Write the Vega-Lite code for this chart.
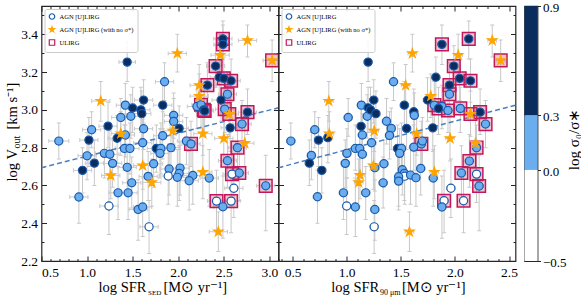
{
"$schema": "https://vega.github.io/schema/vega-lite/v6.json",
"background": "white",
"padding": {"left": 2.5, "top": 0, "right": 0, "bottom": 2},
"config": {
  "font": "Liberation Serif",
  "view": {"stroke": "#262626", "strokeWidth": 1.2},
  "axis": {"domain": false, "grid": false, "tickColor": "#262626", "tickWidth": 1, "labelFont": "Liberation Serif", "titleFont": "Liberation Serif", "labelFontSize": 13.5, "titleFontSize": 14.5, "titleFontWeight": "normal", "labelColor": "black", "titleColor": "black"}
},
"datasets": {
"fit": [{"p":"L","x":0.5,"y":2.694},{"p":"L","x":3.1,"y":3.011},{"p":"R","x":0.37,"y":2.694},{"p":"R","x":2.56,"y":3.025}],
"cb": [{"lo":-0.5,"hi":0,"c":"w"},{"lo":0,"hi":0.3,"c":"l"},{"lo":0.3,"hi":0.9,"c":"d"}],
"pts": [
{"p":"L","t":"l","u":0,"x":0.69,"y":2.835,"x0":0.58,"x1":0.80,"y0":2.74,"y1":2.93},
{"p":"L","t":"d","u":0,"x":1.02,"y":2.84,"x0":0.92,"x1":1.12,"y0":2.70,"y1":2.96},
{"p":"L","t":"l","u":0,"x":1.05,"y":2.895,"x0":0.95,"x1":1.15,"y0":2.80,"y1":2.99},
{"p":"L","t":"d","u":0,"x":1.23,"y":2.914,"x0":1.13,"x1":1.33,"y0":2.80,"y1":3.04},
{"p":"L","t":"d","u":0,"x":1.44,"y":3.253,"x0":1.35,"x1":1.53,"y0":3.15,"y1":3.36},
{"p":"L","t":"l","u":0,"x":1.42,"y":3.025,"x0":1.32,"x1":1.52,"y0":2.92,"y1":3.14},
{"p":"L","t":"l","u":0,"x":1.37,"y":2.96,"x0":1.27,"x1":1.47,"y0":2.86,"y1":3.06},
{"p":"L","t":"l","u":0,"x":1.48,"y":2.966,"x0":1.38,"x1":1.58,"y0":2.85,"y1":3.08},
{"p":"L","t":"d","u":0,"x":1.50,"y":3.01,"x0":1.40,"x1":1.60,"y0":2.88,"y1":3.12},
{"p":"L","t":"d","u":0,"x":1.62,"y":3.052,"x0":1.52,"x1":1.72,"y0":2.93,"y1":3.16},
{"p":"L","t":"d","u":0,"x":1.59,"y":3.0,"x0":1.49,"x1":1.69,"y0":2.88,"y1":3.12},
{"p":"L","t":"d","u":0,"x":1.60,"y":2.98,"x0":1.50,"x1":1.70,"y0":2.85,"y1":3.10},
{"p":"L","t":"l","u":0,"x":1.62,"y":2.90,"x0":1.52,"x1":1.72,"y0":2.79,"y1":3.01},
{"p":"L","t":"d","u":0,"x":1.33,"y":2.85,"x0":1.23,"x1":1.43,"y0":2.72,"y1":2.97},
{"p":"L","t":"l","u":0,"x":1.42,"y":2.867,"x0":1.32,"x1":1.52,"y0":2.75,"y1":2.98},
{"p":"L","t":"s","u":0,"x":1.37,"y":2.875,"x0":1.27,"x1":1.47,"y0":2.76,"y1":2.99},
{"p":"L","t":"s","u":0,"x":1.15,"y":3.047,"x0":1.05,"x1":1.25,"y0":2.94,"y1":3.15},
{"p":"L","t":"l","u":0,"x":1.61,"y":2.826,"x0":1.51,"x1":1.71,"y0":2.70,"y1":2.95},
{"p":"L","t":"l","u":0,"x":1.41,"y":2.796,"x0":1.31,"x1":1.51,"y0":2.68,"y1":2.92},
{"p":"L","t":"l","u":0,"x":1.47,"y":2.796,"x0":1.37,"x1":1.57,"y0":2.66,"y1":2.93},
{"p":"L","t":"l","u":0,"x":1.85,"y":3.149,"x0":1.75,"x1":1.95,"y0":3.05,"y1":3.25},
{"p":"L","t":"d","u":0,"x":1.83,"y":3.025,"x0":1.73,"x1":1.93,"y0":2.90,"y1":3.15},
{"p":"L","t":"s","u":0,"x":1.99,"y":3.299,"x0":1.89,"x1":2.09,"y0":3.20,"y1":3.40},
{"p":"L","t":"l","u":0,"x":1.83,"y":2.863,"x0":1.73,"x1":1.93,"y0":2.74,"y1":2.99},
{"p":"L","t":"l","u":0,"x":1.95,"y":2.971,"x0":1.85,"x1":2.05,"y0":2.85,"y1":3.09},
{"p":"L","t":"l","u":0,"x":1.95,"y":2.939,"x0":1.85,"x1":2.05,"y0":2.82,"y1":3.06},
{"p":"L","t":"s","u":0,"x":1.94,"y":2.889,"x0":1.84,"x1":2.04,"y0":2.78,"y1":3.00},
{"p":"L","t":"d","u":0,"x":2.01,"y":2.902,"x0":1.91,"x1":2.11,"y0":2.79,"y1":3.02},
{"p":"L","t":"l","u":0,"x":1.92,"y":2.80,"x0":1.82,"x1":2.02,"y0":2.68,"y1":2.92},
{"p":"L","t":"d","u":0,"x":1.76,"y":2.796,"x0":1.66,"x1":1.86,"y0":2.67,"y1":2.92},
{"p":"L","t":"l","u":0,"x":1.81,"y":2.796,"x0":1.71,"x1":1.91,"y0":2.66,"y1":2.93},
{"p":"L","t":"l","u":0,"x":2.09,"y":2.835,"x0":1.99,"x1":2.19,"y0":2.71,"y1":2.96},
{"p":"L","t":"l","u":1,"x":2.14,"y":2.82,"x0":2.04,"x1":2.24,"y0":2.70,"y1":2.94},
{"p":"L","t":"l","u":0,"x":2.205,"y":3.018,"x0":2.10,"x1":2.31,"y0":2.90,"y1":3.13},
{"p":"L","t":"l","u":1,"x":2.25,"y":3.027,"x0":2.15,"x1":2.35,"y0":2.90,"y1":3.15},
{"p":"L","t":"d","u":1,"x":2.28,"y":3.0,"x0":2.18,"x1":2.38,"y0":2.87,"y1":3.12},
{"p":"L","t":"d","u":1,"x":2.29,"y":2.994,"x0":2.19,"x1":2.39,"y0":2.86,"y1":3.12},
{"p":"L","t":"s","u":0,"x":2.23,"y":3.13,"x0":2.13,"x1":2.33,"y0":3.02,"y1":3.24},
{"p":"L","t":"s","u":0,"x":2.23,"y":3.073,"x0":2.13,"x1":2.33,"y0":2.96,"y1":3.19},
{"p":"L","t":"d","u":1,"x":2.32,"y":3.131,"x0":2.22,"x1":2.42,"y0":3.02,"y1":3.25},
{"p":"L","t":"s","u":0,"x":2.27,"y":2.874,"x0":2.17,"x1":2.37,"y0":2.76,"y1":2.99},
{"p":"L","t":"d","u":1,"x":2.41,"y":3.232,"x0":2.31,"x1":2.51,"y0":3.12,"y1":3.34},
{"p":"L","t":"s","u":0,"x":2.46,"y":3.29,"x0":2.36,"x1":2.56,"y0":3.18,"y1":3.40},
{"p":"L","t":"d","u":1,"x":2.49,"y":3.376,"x0":2.39,"x1":2.59,"y0":3.27,"y1":3.47},
{"p":"L","t":"d","u":1,"x":2.49,"y":3.347,"x0":2.39,"x1":2.59,"y0":3.24,"y1":3.45},
{"p":"L","t":"d","u":0,"x":2.45,"y":3.173,"x0":2.35,"x1":2.55,"y0":3.06,"y1":3.28},
{"p":"L","t":"d","u":1,"x":2.50,"y":3.167,"x0":2.40,"x1":2.60,"y0":3.05,"y1":3.28},
{"p":"L","t":"d","u":1,"x":2.58,"y":3.154,"x0":2.48,"x1":2.68,"y0":3.04,"y1":3.27},
{"p":"L","t":"l","u":1,"x":2.54,"y":3.083,"x0":2.44,"x1":2.64,"y0":2.97,"y1":3.20},
{"p":"L","t":"d","u":0,"x":2.47,"y":3.052,"x0":2.37,"x1":2.57,"y0":2.94,"y1":3.17},
{"p":"L","t":"l","u":1,"x":2.51,"y":3.004,"x0":2.41,"x1":2.61,"y0":2.88,"y1":3.12},
{"p":"L","t":"s","u":1,"x":2.56,"y":2.978,"x0":2.46,"x1":2.66,"y0":2.86,"y1":3.10},
{"p":"L","t":"d","u":1,"x":2.76,"y":2.988,"x0":2.66,"x1":2.86,"y0":2.87,"y1":3.11},
{"p":"L","t":"l","u":1,"x":2.70,"y":2.925,"x0":2.60,"x1":2.80,"y0":2.80,"y1":3.05},
{"p":"L","t":"d","u":0,"x":2.57,"y":2.905,"x0":2.47,"x1":2.67,"y0":2.78,"y1":3.03},
{"p":"L","t":"s","u":0,"x":2.50,"y":2.849,"x0":2.40,"x1":2.60,"y0":2.73,"y1":2.97},
{"p":"L","t":"s","u":0,"x":2.73,"y":2.824,"x0":2.63,"x1":2.83,"y0":2.70,"y1":2.95},
{"p":"L","t":"s","u":0,"x":2.76,"y":3.368,"x0":2.66,"x1":2.86,"y0":3.28,"y1":3.45},
{"p":"L","t":"s","u":1,"x":3.03,"y":3.262,"x0":2.93,"x1":3.13,"y0":3.15,"y1":3.37},
{"p":"L","t":"l","u":1,"x":2.65,"y":2.80,"x0":2.55,"x1":2.75,"y0":2.68,"y1":2.92},
{"p":"L","t":"l","u":0,"x":1.00,"y":2.757,"x0":0.90,"x1":1.10,"y0":2.63,"y1":2.88},
{"p":"L","t":"l","u":0,"x":1.19,"y":2.77,"x0":1.09,"x1":1.29,"y0":2.64,"y1":2.90},
{"p":"L","t":"l","u":0,"x":1.25,"y":2.765,"x0":1.15,"x1":1.35,"y0":2.64,"y1":2.89},
{"p":"L","t":"d","u":0,"x":0.95,"y":2.68,"x0":0.85,"x1":1.05,"y0":2.56,"y1":2.80},
{"p":"L","t":"d","u":0,"x":1.08,"y":2.718,"x0":0.98,"x1":1.18,"y0":2.60,"y1":2.84},
{"p":"L","t":"l","u":0,"x":1.28,"y":2.717,"x0":1.18,"x1":1.38,"y0":2.59,"y1":2.84},
{"p":"L","t":"l","u":0,"x":1.44,"y":2.696,"x0":1.34,"x1":1.54,"y0":2.57,"y1":2.82},
{"p":"L","t":"s","u":0,"x":1.26,"y":2.653,"x0":1.16,"x1":1.36,"y0":2.53,"y1":2.78},
{"p":"L","t":"s","u":0,"x":1.61,"y":2.705,"x0":1.51,"x1":1.71,"y0":2.58,"y1":2.83},
{"p":"L","t":"l","u":0,"x":1.73,"y":2.715,"x0":1.63,"x1":1.83,"y0":2.59,"y1":2.84},
{"p":"L","t":"l","u":0,"x":1.80,"y":2.77,"x0":1.70,"x1":1.90,"y0":2.64,"y1":2.90},
{"p":"L","t":"l","u":0,"x":1.67,"y":2.648,"x0":1.57,"x1":1.77,"y0":2.52,"y1":2.78},
{"p":"L","t":"s","u":0,"x":1.71,"y":2.616,"x0":1.61,"x1":1.81,"y0":2.49,"y1":2.74},
{"p":"L","t":"l","u":0,"x":1.49,"y":2.614,"x0":1.39,"x1":1.59,"y0":2.48,"y1":2.75},
{"p":"L","t":"l","u":0,"x":1.34,"y":2.561,"x0":1.24,"x1":1.44,"y0":2.42,"y1":2.70},
{"p":"L","t":"l","u":0,"x":1.45,"y":2.561,"x0":1.35,"x1":1.55,"y0":2.42,"y1":2.70},
{"p":"L","t":"l","u":0,"x":0.91,"y":2.539,"x0":0.81,"x1":1.01,"y0":2.40,"y1":2.68},
{"p":"L","t":"w","u":0,"x":1.24,"y":2.491,"x0":1.14,"x1":1.34,"y0":2.34,"y1":2.64},
{"p":"L","t":"l","u":0,"x":1.56,"y":2.473,"x0":1.46,"x1":1.66,"y0":2.31,"y1":2.63},
{"p":"L","t":"l","u":0,"x":1.61,"y":2.486,"x0":1.51,"x1":1.71,"y0":2.33,"y1":2.64},
{"p":"L","t":"w","u":0,"x":1.68,"y":2.381,"x0":1.58,"x1":1.78,"y0":2.24,"y1":2.52},
{"p":"L","t":"l","u":0,"x":1.90,"y":2.687,"x0":1.80,"x1":2.00,"y0":2.55,"y1":2.82},
{"p":"L","t":"w","u":0,"x":1.89,"y":2.65,"x0":1.79,"x1":1.99,"y0":2.50,"y1":2.80},
{"p":"L","t":"l","u":0,"x":2.02,"y":2.692,"x0":1.92,"x1":2.12,"y0":2.55,"y1":2.83},
{"p":"L","t":"l","u":0,"x":2.01,"y":2.664,"x0":1.91,"x1":2.11,"y0":2.52,"y1":2.81},
{"p":"L","t":"l","u":0,"x":1.99,"y":2.643,"x0":1.89,"x1":2.09,"y0":2.49,"y1":2.79},
{"p":"L","t":"l","u":0,"x":2.16,"y":2.653,"x0":2.06,"x1":2.26,"y0":2.50,"y1":2.80},
{"p":"L","t":"l","u":0,"x":2.12,"y":2.625,"x0":2.02,"x1":2.22,"y0":2.47,"y1":2.78},
{"p":"L","t":"s","u":0,"x":2.27,"y":2.671,"x0":2.17,"x1":2.37,"y0":2.53,"y1":2.81},
{"p":"L","t":"l","u":0,"x":2.34,"y":2.639,"x0":2.24,"x1":2.44,"y0":2.49,"y1":2.79},
{"p":"L","t":"l","u":1,"x":2.54,"y":2.731,"x0":2.44,"x1":2.64,"y0":2.59,"y1":2.87},
{"p":"L","t":"w","u":1,"x":2.59,"y":2.66,"x0":2.49,"x1":2.69,"y0":2.51,"y1":2.81},
{"p":"L","t":"l","u":1,"x":2.67,"y":2.666,"x0":2.57,"x1":2.77,"y0":2.52,"y1":2.81},
{"p":"L","t":"w","u":0,"x":2.61,"y":2.585,"x0":2.51,"x1":2.71,"y0":2.43,"y1":2.74},
{"p":"L","t":"l","u":1,"x":2.96,"y":2.598,"x0":2.86,"x1":3.06,"y0":2.36,"y1":2.76},
{"p":"L","t":"w","u":1,"x":2.42,"y":2.517,"x0":2.32,"x1":2.52,"y0":2.35,"y1":2.68},
{"p":"L","t":"w","u":1,"x":2.58,"y":2.517,"x0":2.48,"x1":2.68,"y0":2.35,"y1":2.68},
{"p":"L","t":"l","u":0,"x":2.49,"y":2.487,"x0":2.39,"x1":2.59,"y0":2.32,"y1":2.65},
{"p":"L","t":"s","u":0,"x":2.44,"y":2.355,"x0":2.34,"x1":2.54,"y0":2.25,"y1":2.46},
{"p":"R","t":"l","u":0,"x":0.484,"y":2.835,"x0":0.444,"x1":0.524,"y0":2.74,"y1":2.93},
{"p":"R","t":"l","u":0,"x":0.705,"y":2.895,"x0":0.665,"x1":0.745,"y0":2.80,"y1":2.99},
{"p":"R","t":"d","u":0,"x":0.74,"y":2.84,"x0":0.70,"x1":0.78,"y0":2.70,"y1":2.96},
{"p":"R","t":"d","u":0,"x":0.826,"y":2.853,"x0":0.786,"x1":0.866,"y0":2.72,"y1":2.97},
{"p":"R","t":"s","u":0,"x":0.835,"y":3.047,"x0":0.795,"x1":0.875,"y0":2.94,"y1":3.15},
{"p":"R","t":"s","u":0,"x":0.84,"y":2.874,"x0":0.80,"x1":0.88,"y0":2.76,"y1":2.99},
{"p":"R","t":"l","u":0,"x":1.014,"y":2.96,"x0":0.974,"x1":1.054,"y0":2.86,"y1":3.06},
{"p":"R","t":"d","u":0,"x":1.133,"y":2.913,"x0":1.093,"x1":1.173,"y0":2.80,"y1":3.04},
{"p":"R","t":"l","u":0,"x":1.136,"y":3.025,"x0":1.096,"x1":1.176,"y0":2.92,"y1":3.14},
{"p":"R","t":"l","u":0,"x":1.19,"y":2.966,"x0":1.15,"x1":1.23,"y0":2.85,"y1":3.08},
{"p":"R","t":"d","u":0,"x":1.198,"y":3.253,"x0":1.158,"x1":1.238,"y0":3.15,"y1":3.36},
{"p":"R","t":"d","u":0,"x":1.198,"y":3.011,"x0":1.158,"x1":1.238,"y0":2.88,"y1":3.12},
{"p":"R","t":"d","u":0,"x":1.22,"y":3.0,"x0":1.18,"x1":1.26,"y0":2.88,"y1":3.12},
{"p":"R","t":"d","u":0,"x":1.25,"y":3.052,"x0":1.21,"x1":1.29,"y0":2.93,"y1":3.16},
{"p":"R","t":"d","u":0,"x":1.27,"y":2.98,"x0":1.23,"x1":1.31,"y0":2.85,"y1":3.10},
{"p":"R","t":"l","u":0,"x":1.145,"y":2.867,"x0":1.105,"x1":1.185,"y0":2.75,"y1":2.98},
{"p":"R","t":"s","u":0,"x":1.254,"y":2.889,"x0":1.214,"x1":1.294,"y0":2.78,"y1":3.00},
{"p":"R","t":"l","u":0,"x":1.23,"y":2.826,"x0":1.19,"x1":1.27,"y0":2.70,"y1":2.95},
{"p":"R","t":"l","u":0,"x":1.08,"y":2.796,"x0":1.04,"x1":1.12,"y0":2.68,"y1":2.92},
{"p":"R","t":"l","u":0,"x":1.12,"y":2.796,"x0":1.08,"x1":1.16,"y0":2.66,"y1":2.93},
{"p":"R","t":"l","u":0,"x":1.433,"y":3.149,"x0":1.393,"x1":1.473,"y0":3.05,"y1":3.25},
{"p":"R","t":"d","u":0,"x":1.533,"y":3.025,"x0":1.493,"x1":1.573,"y0":2.90,"y1":3.15},
{"p":"R","t":"l","u":0,"x":1.368,"y":2.94,"x0":1.328,"x1":1.408,"y0":2.82,"y1":3.06},
{"p":"R","t":"l","u":0,"x":1.412,"y":2.902,"x0":1.372,"x1":1.452,"y0":2.79,"y1":3.01},
{"p":"R","t":"l","u":0,"x":1.396,"y":2.865,"x0":1.356,"x1":1.436,"y0":2.74,"y1":2.99},
{"p":"R","t":"d","u":0,"x":1.554,"y":2.902,"x0":1.514,"x1":1.594,"y0":2.79,"y1":3.02},
{"p":"R","t":"s","u":0,"x":1.545,"y":3.13,"x0":1.505,"x1":1.585,"y0":3.02,"y1":3.24},
{"p":"R","t":"s","u":0,"x":1.607,"y":3.299,"x0":1.567,"x1":1.647,"y0":3.20,"y1":3.40},
{"p":"R","t":"d","u":0,"x":1.62,"y":2.99,"x0":1.58,"x1":1.66,"y0":2.87,"y1":3.11},
{"p":"R","t":"l","u":0,"x":1.625,"y":2.971,"x0":1.585,"x1":1.665,"y0":2.85,"y1":3.09},
{"p":"R","t":"s","u":0,"x":1.647,"y":2.874,"x0":1.607,"x1":1.687,"y0":2.76,"y1":2.99},
{"p":"R","t":"l","u":0,"x":1.62,"y":2.803,"x0":1.58,"x1":1.66,"y0":2.68,"y1":2.92},
{"p":"R","t":"d","u":0,"x":1.47,"y":2.796,"x0":1.43,"x1":1.51,"y0":2.67,"y1":2.92},
{"p":"R","t":"l","u":0,"x":1.507,"y":2.796,"x0":1.467,"x1":1.547,"y0":2.66,"y1":2.93},
{"p":"R","t":"l","u":1,"x":1.69,"y":2.82,"x0":1.65,"x1":1.73,"y0":2.70,"y1":2.94},
{"p":"R","t":"l","u":0,"x":1.70,"y":2.835,"x0":1.66,"x1":1.74,"y0":2.71,"y1":2.96},
{"p":"R","t":"s","u":0,"x":1.777,"y":3.073,"x0":1.737,"x1":1.817,"y0":2.96,"y1":3.19},
{"p":"R","t":"d","u":0,"x":1.747,"y":3.052,"x0":1.707,"x1":1.787,"y0":2.94,"y1":3.17},
{"p":"R","t":"l","u":1,"x":1.81,"y":3.025,"x0":1.77,"x1":1.85,"y0":2.90,"y1":3.15},
{"p":"R","t":"l","u":0,"x":1.88,"y":3.018,"x0":1.84,"x1":1.92,"y0":2.90,"y1":3.13},
{"p":"R","t":"d","u":1,"x":1.849,"y":3.008,"x0":1.809,"x1":1.889,"y0":2.87,"y1":3.12},
{"p":"R","t":"l","u":1,"x":1.936,"y":2.997,"x0":1.896,"x1":1.976,"y0":2.88,"y1":3.12},
{"p":"R","t":"d","u":0,"x":1.824,"y":3.173,"x0":1.784,"x1":1.864,"y0":3.06,"y1":3.28},
{"p":"R","t":"d","u":1,"x":1.88,"y":3.347,"x0":1.84,"x1":1.92,"y0":3.24,"y1":3.45},
{"p":"R","t":"s","u":0,"x":2.03,"y":3.29,"x0":1.99,"x1":2.07,"y0":3.18,"y1":3.40},
{"p":"R","t":"d","u":1,"x":1.99,"y":3.232,"x0":1.95,"x1":2.03,"y0":3.12,"y1":3.34},
{"p":"R","t":"d","u":1,"x":1.95,"y":3.131,"x0":1.91,"x1":1.99,"y0":3.02,"y1":3.25},
{"p":"R","t":"l","u":1,"x":1.95,"y":3.083,"x0":1.91,"x1":1.99,"y0":2.97,"y1":3.20},
{"p":"R","t":"d","u":1,"x":2.044,"y":3.167,"x0":2.004,"x1":2.084,"y0":3.05,"y1":3.28},
{"p":"R","t":"d","u":1,"x":2.128,"y":3.376,"x0":2.088,"x1":2.168,"y0":3.27,"y1":3.47},
{"p":"R","t":"d","u":1,"x":2.144,"y":3.154,"x0":2.104,"x1":2.184,"y0":3.04,"y1":3.27},
{"p":"R","t":"l","u":1,"x":2.05,"y":3.008,"x0":2.01,"x1":2.09,"y0":2.88,"y1":3.12},
{"p":"R","t":"s","u":1,"x":2.144,"y":2.978,"x0":2.104,"x1":2.184,"y0":2.86,"y1":3.10},
{"p":"R","t":"d","u":1,"x":2.233,"y":2.988,"x0":2.193,"x1":2.273,"y0":2.87,"y1":3.11},
{"p":"R","t":"l","u":1,"x":2.283,"y":2.925,"x0":2.243,"x1":2.323,"y0":2.80,"y1":3.05},
{"p":"R","t":"s","u":0,"x":2.345,"y":3.368,"x0":2.305,"x1":2.385,"y0":3.28,"y1":3.45},
{"p":"R","t":"s","u":1,"x":2.423,"y":3.262,"x0":2.383,"x1":2.463,"y0":3.15,"y1":3.37},
{"p":"R","t":"s","u":0,"x":1.955,"y":2.849,"x0":1.915,"x1":1.995,"y0":2.73,"y1":2.97},
{"p":"R","t":"d","u":0,"x":1.796,"y":2.905,"x0":1.756,"x1":1.836,"y0":2.78,"y1":3.03},
{"p":"R","t":"s","u":0,"x":2.19,"y":2.824,"x0":2.15,"x1":2.23,"y0":2.70,"y1":2.95},
{"p":"R","t":"l","u":1,"x":2.20,"y":2.80,"x0":2.16,"x1":2.24,"y0":2.68,"y1":2.92},
{"p":"R","t":"l","u":0,"x":0.674,"y":2.759,"x0":0.634,"x1":0.714,"y0":2.63,"y1":2.88},
{"p":"R","t":"d","u":0,"x":0.655,"y":2.718,"x0":0.615,"x1":0.695,"y0":2.60,"y1":2.84},
{"p":"R","t":"d","u":0,"x":0.77,"y":2.68,"x0":0.73,"x1":0.81,"y0":2.56,"y1":2.80},
{"p":"R","t":"l","u":0,"x":1.002,"y":2.77,"x0":0.962,"x1":1.042,"y0":2.64,"y1":2.90},
{"p":"R","t":"l","u":0,"x":1.145,"y":2.765,"x0":1.105,"x1":1.185,"y0":2.64,"y1":2.89},
{"p":"R","t":"l","u":0,"x":0.987,"y":2.717,"x0":0.947,"x1":1.027,"y0":2.59,"y1":2.84},
{"p":"R","t":"s","u":0,"x":1.247,"y":2.705,"x0":1.207,"x1":1.287,"y0":2.58,"y1":2.83},
{"p":"R","t":"l","u":0,"x":1.26,"y":2.694,"x0":1.22,"x1":1.30,"y0":2.57,"y1":2.82},
{"p":"R","t":"l","u":0,"x":1.344,"y":2.715,"x0":1.304,"x1":1.384,"y0":2.59,"y1":2.84},
{"p":"R","t":"l","u":0,"x":1.49,"y":2.77,"x0":1.45,"x1":1.53,"y0":2.64,"y1":2.90},
{"p":"R","t":"s","u":0,"x":1.123,"y":2.655,"x0":1.083,"x1":1.163,"y0":2.53,"y1":2.78},
{"p":"R","t":"s","u":0,"x":1.111,"y":2.616,"x0":1.071,"x1":1.151,"y0":2.49,"y1":2.74},
{"p":"R","t":"l","u":0,"x":1.337,"y":2.614,"x0":1.297,"x1":1.377,"y0":2.48,"y1":2.75},
{"p":"R","t":"l","u":0,"x":0.97,"y":2.561,"x0":0.93,"x1":1.01,"y0":2.42,"y1":2.70},
{"p":"R","t":"l","u":0,"x":1.176,"y":2.561,"x0":1.136,"x1":1.216,"y0":2.42,"y1":2.70},
{"p":"R","t":"l","u":0,"x":0.73,"y":2.54,"x0":0.69,"x1":0.77,"y0":2.40,"y1":2.68},
{"p":"R","t":"w","u":0,"x":1.0,"y":2.491,"x0":0.96,"x1":1.04,"y0":2.34,"y1":2.64},
{"p":"R","t":"l","u":0,"x":1.08,"y":2.486,"x0":1.04,"x1":1.12,"y0":2.33,"y1":2.64},
{"p":"R","t":"l","u":0,"x":1.26,"y":2.473,"x0":1.22,"x1":1.30,"y0":2.31,"y1":2.63},
{"p":"R","t":"w","u":0,"x":1.254,"y":2.381,"x0":1.214,"x1":1.294,"y0":2.24,"y1":2.52},
{"p":"R","t":"l","u":0,"x":1.514,"y":2.683,"x0":1.474,"x1":1.554,"y0":2.55,"y1":2.82},
{"p":"R","t":"l","u":0,"x":1.533,"y":2.664,"x0":1.493,"x1":1.573,"y0":2.52,"y1":2.81},
{"p":"R","t":"w","u":0,"x":1.536,"y":2.649,"x0":1.496,"x1":1.576,"y0":2.50,"y1":2.80},
{"p":"R","t":"l","u":0,"x":1.48,"y":2.646,"x0":1.44,"x1":1.52,"y0":2.49,"y1":2.79},
{"p":"R","t":"l","u":0,"x":1.48,"y":2.623,"x0":1.44,"x1":1.52,"y0":2.47,"y1":2.78},
{"p":"R","t":"l","u":0,"x":1.59,"y":2.655,"x0":1.55,"x1":1.63,"y0":2.50,"y1":2.80},
{"p":"R","t":"l","u":0,"x":1.64,"y":2.641,"x0":1.60,"x1":1.68,"y0":2.49,"y1":2.79},
{"p":"R","t":"l","u":0,"x":1.684,"y":2.69,"x0":1.644,"x1":1.724,"y0":2.55,"y1":2.83},
{"p":"R","t":"l","u":0,"x":1.80,"y":2.639,"x0":1.76,"x1":1.84,"y0":2.49,"y1":2.79},
{"p":"R","t":"s","u":0,"x":1.81,"y":2.671,"x0":1.77,"x1":1.85,"y0":2.53,"y1":2.81},
{"p":"R","t":"w","u":0,"x":1.963,"y":2.585,"x0":1.923,"x1":2.003,"y0":2.43,"y1":2.74},
{"p":"R","t":"w","u":1,"x":1.90,"y":2.519,"x0":1.86,"x1":1.94,"y0":2.35,"y1":2.68},
{"p":"R","t":"l","u":0,"x":1.88,"y":2.486,"x0":1.84,"x1":1.92,"y0":2.32,"y1":2.65},
{"p":"R","t":"w","u":1,"x":2.08,"y":2.519,"x0":2.04,"x1":2.12,"y0":2.35,"y1":2.68},
{"p":"R","t":"l","u":1,"x":2.06,"y":2.666,"x0":2.02,"x1":2.10,"y0":2.52,"y1":2.81},
{"p":"R","t":"w","u":1,"x":2.20,"y":2.66,"x0":2.16,"x1":2.24,"y0":2.51,"y1":2.81},
{"p":"R","t":"l","u":1,"x":2.134,"y":2.729,"x0":2.094,"x1":2.174,"y0":2.59,"y1":2.87},
{"p":"R","t":"l","u":1,"x":2.224,"y":2.597,"x0":2.184,"x1":2.264,"y0":2.36,"y1":2.76},
{"p":"R","t":"s","u":0,"x":1.58,"y":2.355,"x0":1.54,"x1":1.62,"y0":2.25,"y1":2.46}
]
},
"hconcat": [
{
"spacing": 0,
"bounds": "flush",
"resolve": {"scale": {"shape": "independent", "fill": "independent", "stroke": "independent", "color": "independent"}, "legend": {"shape": "independent", "fill": "independent", "stroke": "independent"}},
"hconcat": [
{
"width": 237, "height": 255,
"resolve": {"axis": {"x": "independent", "y": "independent"}},
"layer": [
{"data": {"name": "pts"}, "transform": [{"filter": "datum.p === 'L'"}],
 "mark": {"type": "rule", "color": "#c8c8c8", "strokeWidth": 1, "clip": true},
 "encoding": {
  "x": {"field": "x0", "type": "quantitative", "scale": {"domain": [0.5, 3.1], "nice": false, "zero": false, "padding": 0},
        "axis": {"orient": "bottom", "values": [0.5, 1, 1.5, 2, 2.5, 3], "format": ".1f", "ticks": false, "labelPadding": 4, "title": "log SFR", "titleAlign": "left", "titleBaseline": "alphabetic", "titleX": 56.5, "titleY": 30.5}},
  "x2": {"field": "x1"},
  "y": {"field": "y", "type": "quantitative", "scale": {"domain": [2.2, 3.55], "nice": false, "zero": false, "padding": 0},
        "axis": {"orient": "left", "values": [2.2, 2.4, 2.6, 2.8, 3.0, 3.2, 3.4], "format": ".1f", "ticks": false, "labelPadding": 4, "title": "log V", "titleAngle": 270, "titleAlign": "left", "titleBaseline": "alphabetic", "titleX": -25.5, "titleY": 175}}
 }},
{"data": {"name": "pts"}, "transform": [{"filter": "datum.p === 'L'"}, {"fold": ["x0", "x1"], "as": ["k", "xv"]}],
 "mark": {"type": "tick", "orient": "vertical", "size": 4, "thickness": 1, "color": "#c8c8c8", "opacity": 1, "clip": true},
 "encoding": {
  "x": {"field": "xv", "type": "quantitative",
        "axis": {"orient": "top", "values": [0.5, 1, 1.5, 2, 2.5, 3], "tickSize": -5, "labels": false, "title": "[M⊙ yr⁻¹]", "titleAlign": "left", "titleBaseline": "alphabetic", "titleX": 121.5, "titleY": 285.5}},
  "y": {"field": "y", "type": "quantitative",
        "axis": {"orient": "right", "values": [2.2, 2.4, 2.6, 2.8, 3.0, 3.2, 3.4], "tickSize": -5, "labels": false, "title": "[km s⁻¹]", "titleAngle": 270, "titleAlign": "left", "titleBaseline": "alphabetic", "titleX": -262.5, "titleY": 123}}
 }},
{"data": {"name": "pts"}, "transform": [{"filter": "datum.p === 'L'"}],
 "mark": {"type": "rule", "color": "#c8c8c8", "strokeWidth": 1, "clip": true},
 "encoding": {
  "x": {"field": "x", "type": "quantitative",
        "axis": {"orient": "bottom", "values": [0.6,0.7,0.8,0.9,1.1,1.2,1.3,1.4,1.6,1.7,1.8,1.9,2.1,2.2,2.3,2.4,2.6,2.7,2.8,2.9,3.1], "tickSize": -2.5, "labels": false, "title": "SED", "titleFontSize": 7, "titleAlign": "left", "titleBaseline": "alphabetic", "titleX": 106, "titleY": 33}},
  "y": {"field": "y0", "type": "quantitative",
        "axis": {"orient": "left", "values": [2.3, 2.5, 2.7, 2.9, 3.1, 3.3, 3.5], "tickSize": -2.5, "labels": false, "title": "out", "titleFontSize": 10, "titleAngle": 270, "titleAlign": "left", "titleBaseline": "alphabetic", "titleX": -22.5, "titleY": 142}},
  "y2": {"field": "y1"}
 }},
{"data": {"name": "pts"}, "transform": [{"filter": "datum.p === 'L'"}, {"fold": ["y0", "y1"], "as": ["k", "yv"]}],
 "mark": {"type": "tick", "orient": "horizontal", "size": 4, "thickness": 1, "color": "#c8c8c8", "opacity": 1, "clip": true},
 "encoding": {
  "x": {"field": "x", "type": "quantitative",
        "axis": {"orient": "top", "values": [0.6,0.7,0.8,0.9,1.1,1.2,1.3,1.4,1.6,1.7,1.8,1.9,2.1,2.2,2.3,2.4,2.6,2.7,2.8,2.9,3.1], "tickSize": -2.5, "labels": false, "title": null}},
  "y": {"field": "yv", "type": "quantitative",
        "axis": {"orient": "right", "values": [2.3, 2.5, 2.7, 2.9, 3.1, 3.3, 3.5], "tickSize": -2.5, "labels": false, "title": null}}
 }},
{"data": {"name": "fit"}, "transform": [{"filter": "datum.p === 'L'"}],
 "mark": {"type": "line", "color": "#4b80c0", "strokeWidth": 1.5, "strokeDash": [5, 3], "clip": true},
 "encoding": {
  "x": {"field": "x", "type": "quantitative", "axis": {"orient": "bottom", "values": [0.5, 1, 1.5, 2, 2.5, 3], "tickSize": -5, "labels": false, "title": null}},
  "y": {"field": "y", "type": "quantitative", "axis": {"orient": "left", "values": [2.2, 2.4, 2.6, 2.8, 3.0, 3.2, 3.4], "tickSize": -5, "labels": false, "title": null}}}},
{"data": {"name": "pts"}, "transform": [{"filter": "datum.p === 'L' && datum.u === 1"}],
 "mark": {"type": "point", "shape": "square", "filled": true, "size": 160, "fill": "#d23c64", "fillOpacity": 0.3, "stroke": "#c2185b", "strokeWidth": 1.5, "opacity": 1, "clip": true},
 "encoding": {"x": {"field": "x", "type": "quantitative", "axis": null}, "y": {"field": "y", "type": "quantitative", "axis": null}}},
{"data": {"name": "pts"}, "transform": [{"filter": "datum.p === 'L' && datum.t !== 's'"}],
 "mark": {"type": "point", "shape": "circle", "filled": true, "size": 66, "stroke": "#1a5aab", "strokeWidth": 1.2, "opacity": 1, "clip": true},
 "encoding": {"x": {"field": "x", "type": "quantitative", "axis": null}, "y": {"field": "y", "type": "quantitative", "axis": null},
  "color": {"field": "t", "type": "nominal", "scale": {"domain": ["d", "l", "w"], "range": ["#0b2c5e", "#6aaeef", "#ffffff"]}, "legend": null}
 }},
{"data": {"name": "pts"}, "transform": [{"filter": "datum.p === 'L' && datum.t === 's'"}],
 "mark": {"type": "point", "filled": true, "size": 95, "strokeWidth": 1.2, "opacity": 1, "clip": true},
 "encoding": {"x": {"field": "x", "type": "quantitative", "axis": null}, "y": {"field": "y", "type": "quantitative", "axis": null},
  "shape": {"field": "t", "type": "nominal",
   "scale": {"domain": ["c", "s", "q"], "range": ["circle", "M0,-1L0.2245,-0.309L0.9511,-0.309L0.3633,0.118L0.5878,0.809L0,0.382L-0.5878,0.809L-0.3633,0.118L-0.9511,-0.309L-0.2245,-0.309Z", "square"]},
   "legend": {"title": null, "orient": "top-left", "offset": 3, "padding": 4, "strokeColor": "#cccccc", "fillColor": "rgba(255,255,255,0.85)", "cornerRadius": 2, "labelFont": "Liberation Serif", "labelFontSize": 6.5, "labelColor": "black", "symbolSize": 30, "symbolStrokeWidth": 1.2, "rowPadding": 2, "labelOffset": 4, "labelExpr": "datum.value === 'c' ? 'AGN [U]LIRG' : datum.value === 's' ? 'AGN [U]LIRG (with no σ*)' : 'ULIRG'"}},
  "fill": {"field": "t", "type": "nominal",
   "scale": {"domain": ["c", "s", "q"], "range": ["transparent", "#ffa500", "transparent"]},
   "legend": {"title": null, "orient": "top-left", "offset": 3, "padding": 4, "strokeColor": "#cccccc", "fillColor": "rgba(255,255,255,0.85)", "cornerRadius": 2, "labelFont": "Liberation Serif", "labelFontSize": 6.5, "labelColor": "black", "symbolSize": 30, "symbolStrokeWidth": 1.2, "rowPadding": 2, "labelOffset": 4, "labelExpr": "datum.value === 'c' ? 'AGN [U]LIRG' : datum.value === 's' ? 'AGN [U]LIRG (with no σ*)' : 'ULIRG'"}},
  "stroke": {"field": "t", "type": "nominal",
   "scale": {"domain": ["c", "s", "q"], "range": ["#1a5aab", "#ffa500", "#c2185b"]},
   "legend": {"title": null, "orient": "top-left", "offset": 3, "padding": 4, "strokeColor": "#cccccc", "fillColor": "rgba(255,255,255,0.85)", "cornerRadius": 2, "labelFont": "Liberation Serif", "labelFontSize": 6.5, "labelColor": "black", "symbolSize": 30, "symbolStrokeWidth": 1.2, "rowPadding": 2, "labelOffset": 4, "labelExpr": "datum.value === 'c' ? 'AGN [U]LIRG' : datum.value === 's' ? 'AGN [U]LIRG (with no σ*)' : 'ULIRG'"}}
 }}
]
},
{
"width": 237, "height": 255,
"resolve": {"axis": {"x": "independent", "y": "independent"}},
"layer": [
{"data": {"name": "pts"}, "transform": [{"filter": "datum.p === 'R'"}],
 "mark": {"type": "rule", "color": "#c8c8c8", "strokeWidth": 1, "clip": true},
 "encoding": {
  "x": {"field": "x0", "type": "quantitative", "scale": {"domain": [0.37, 2.56], "nice": false, "zero": false, "padding": 0},
        "axis": {"orient": "bottom", "values": [0.5, 1, 1.5, 2, 2.5], "format": ".1f", "ticks": false, "labelPadding": 4, "title": "log SFR", "titleAlign": "left", "titleBaseline": "alphabetic", "titleX": 52.3, "titleY": 30.5}},
  "x2": {"field": "x1"},
  "y": {"field": "y", "type": "quantitative", "scale": {"domain": [2.2, 3.55], "nice": false, "zero": false, "padding": 0},
        "axis": {"orient": "left", "values": [2.2, 2.4, 2.6, 2.8, 3.0, 3.2, 3.4], "tickSize": -5, "labels": false, "title": null}}
 }},
{"data": {"name": "pts"}, "transform": [{"filter": "datum.p === 'R'"}, {"fold": ["x0", "x1"], "as": ["k", "xv"]}],
 "mark": {"type": "tick", "orient": "vertical", "size": 4, "thickness": 1, "color": "#c8c8c8", "opacity": 1, "clip": true},
 "encoding": {
  "x": {"field": "xv", "type": "quantitative",
        "axis": {"orient": "top", "values": [0.5, 1, 1.5, 2, 2.5], "tickSize": -5, "labels": false, "title": "[M⊙ yr⁻¹]", "titleAlign": "left", "titleBaseline": "alphabetic", "titleX": 123, "titleY": 285.5}},
  "y": {"field": "y", "type": "quantitative",
        "axis": {"orient": "right", "values": [2.2, 2.4, 2.6, 2.8, 3.0, 3.2, 3.4], "tickSize": -5, "labels": false, "title": null}}
 }},
{"data": {"name": "pts"}, "transform": [{"filter": "datum.p === 'R'"}],
 "mark": {"type": "rule", "color": "#c8c8c8", "strokeWidth": 1, "clip": true},
 "encoding": {
  "x": {"field": "x", "type": "quantitative",
        "axis": {"orient": "bottom", "values": [0.4,0.6,0.7,0.8,0.9,1.1,1.2,1.3,1.4,1.6,1.7,1.8,1.9,2.1,2.2,2.3,2.4], "tickSize": -2.5, "labels": false, "title": "90 μm", "titleFontSize": 8, "titleAlign": "left", "titleBaseline": "alphabetic", "titleX": 101, "titleY": 33}},
  "y": {"field": "y0", "type": "quantitative",
        "axis": {"orient": "left", "values": [2.3, 2.5, 2.7, 2.9, 3.1, 3.3, 3.5], "tickSize": -2.5, "labels": false, "title": null}},
  "y2": {"field": "y1"}
 }},
{"data": {"name": "pts"}, "transform": [{"filter": "datum.p === 'R'"}, {"fold": ["y0", "y1"], "as": ["k", "yv"]}],
 "mark": {"type": "tick", "orient": "horizontal", "size": 4, "thickness": 1, "color": "#c8c8c8", "opacity": 1, "clip": true},
 "encoding": {
  "x": {"field": "x", "type": "quantitative",
        "axis": {"orient": "top", "values": [0.4,0.6,0.7,0.8,0.9,1.1,1.2,1.3,1.4,1.6,1.7,1.8,1.9,2.1,2.2,2.3,2.4], "tickSize": -2.5, "labels": false, "title": null}},
  "y": {"field": "yv", "type": "quantitative",
        "axis": {"orient": "right", "values": [2.3, 2.5, 2.7, 2.9, 3.1, 3.3, 3.5], "tickSize": -2.5, "labels": false, "title": null}}
 }},
{"data": {"name": "fit"}, "transform": [{"filter": "datum.p === 'R'"}],
 "mark": {"type": "line", "color": "#4b80c0", "strokeWidth": 1.5, "strokeDash": [5, 3], "clip": true},
 "encoding": {
  "x": {"field": "x", "type": "quantitative", "axis": {"orient": "bottom", "values": [0.5, 1, 1.5, 2, 2.5], "tickSize": -5, "labels": false, "title": null}},
  "y": {"field": "y", "type": "quantitative", "axis": null}}},
{"data": {"name": "pts"}, "transform": [{"filter": "datum.p === 'R' && datum.u === 1"}],
 "mark": {"type": "point", "shape": "square", "filled": true, "size": 160, "fill": "#d23c64", "fillOpacity": 0.3, "stroke": "#c2185b", "strokeWidth": 1.5, "opacity": 1, "clip": true},
 "encoding": {"x": {"field": "x", "type": "quantitative", "axis": null}, "y": {"field": "y", "type": "quantitative", "axis": null}}},
{"data": {"name": "pts"}, "transform": [{"filter": "datum.p === 'R' && datum.t !== 's'"}],
 "mark": {"type": "point", "shape": "circle", "filled": true, "size": 66, "stroke": "#1a5aab", "strokeWidth": 1.2, "opacity": 1, "clip": true},
 "encoding": {"x": {"field": "x", "type": "quantitative", "axis": null}, "y": {"field": "y", "type": "quantitative", "axis": null},
  "color": {"field": "t", "type": "nominal", "scale": {"domain": ["d", "l", "w"], "range": ["#0b2c5e", "#6aaeef", "#ffffff"]}, "legend": null}
 }},
{"data": {"name": "pts"}, "transform": [{"filter": "datum.p === 'R' && datum.t === 's'"}],
 "mark": {"type": "point", "filled": true, "size": 95, "strokeWidth": 1.2, "opacity": 1, "clip": true},
 "encoding": {"x": {"field": "x", "type": "quantitative", "axis": null}, "y": {"field": "y", "type": "quantitative", "axis": null},
  "shape": {"field": "t", "type": "nominal",
   "scale": {"domain": ["c", "s", "q"], "range": ["circle", "M0,-1L0.2245,-0.309L0.9511,-0.309L0.3633,0.118L0.5878,0.809L0,0.382L-0.5878,0.809L-0.3633,0.118L-0.9511,-0.309L-0.2245,-0.309Z", "square"]},
   "legend": {"title": null, "orient": "top-left", "offset": 3, "padding": 4, "strokeColor": "#cccccc", "fillColor": "rgba(255,255,255,0.85)", "cornerRadius": 2, "labelFont": "Liberation Serif", "labelFontSize": 6.5, "labelColor": "black", "symbolSize": 30, "symbolStrokeWidth": 1.2, "rowPadding": 2, "labelOffset": 4, "labelExpr": "datum.value === 'c' ? 'AGN [U]LIRG' : datum.value === 's' ? 'AGN [U]LIRG (with no σ*)' : 'ULIRG'"}},
  "fill": {"field": "t", "type": "nominal",
   "scale": {"domain": ["c", "s", "q"], "range": ["transparent", "#ffa500", "transparent"]},
   "legend": {"title": null, "orient": "top-left", "offset": 3, "padding": 4, "strokeColor": "#cccccc", "fillColor": "rgba(255,255,255,0.85)", "cornerRadius": 2, "labelFont": "Liberation Serif", "labelFontSize": 6.5, "labelColor": "black", "symbolSize": 30, "symbolStrokeWidth": 1.2, "rowPadding": 2, "labelOffset": 4, "labelExpr": "datum.value === 'c' ? 'AGN [U]LIRG' : datum.value === 's' ? 'AGN [U]LIRG (with no σ*)' : 'ULIRG'"}},
  "stroke": {"field": "t", "type": "nominal",
   "scale": {"domain": ["c", "s", "q"], "range": ["#1a5aab", "#ffa500", "#c2185b"]},
   "legend": {"title": null, "orient": "top-left", "offset": 3, "padding": 4, "strokeColor": "#cccccc", "fillColor": "rgba(255,255,255,0.85)", "cornerRadius": 2, "labelFont": "Liberation Serif", "labelFontSize": 6.5, "labelColor": "black", "symbolSize": 30, "symbolStrokeWidth": 1.2, "rowPadding": 2, "labelOffset": 4, "labelExpr": "datum.value === 'c' ? 'AGN [U]LIRG' : datum.value === 's' ? 'AGN [U]LIRG (with no σ*)' : 'ULIRG'"}}
 }}
]
}
]
},
{
"width": 13, "height": 255,
"data": {"name": "cb"},
"mark": {"type": "rect"},
"encoding": {
  "y": {"field": "lo", "type": "quantitative", "scale": {"domain": [-0.5, 0.9], "nice": false, "zero": false, "padding": 0},
        "axis": {"orient": "right", "values": [-0.5, 0, 0.3, 0.9], "format": ".1f", "tickSize": 3, "labelPadding": 2, "labelFontSize": 13, "labelOffset": 1.5, "title": "log σ₀/σ∗", "titleAngle": 270, "titleFontSize": 15, "titleAlign": "center", "titleBaseline": "alphabetic", "titleX": 40.5, "titleY": 133}},
  "y2": {"field": "hi"},
  "fill": {"field": "c", "type": "nominal", "scale": {"domain": ["w", "l", "d"], "range": ["#ffffff", "#6aaeef", "#0a2d5e"]}, "legend": null}
}
}
],
"spacing": 5,
"resolve": {"scale": {"fill": "independent", "shape": "independent", "stroke": "independent", "color": "independent"}, "legend": {"shape": "independent", "fill": "independent", "stroke": "independent"}}
}
